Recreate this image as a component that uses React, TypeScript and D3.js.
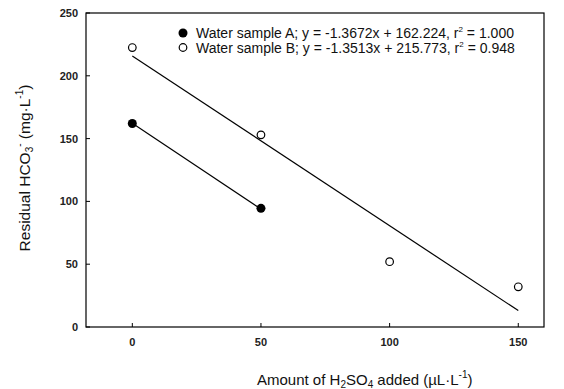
import React from "react";
import * as d3 from "d3";

const xTicks = [0, 50, 100, 150];
const yTicks = [0, 50, 100, 150, 200, 250];
const sampleAx = [0, 50];
const sampleAy = [162, 94.5];
const sampleBx = [0, 50, 100, 150];
const sampleBy = [222.5, 153, 52, 32];
const fitA = { slope: -1.3672, intercept: 162.224, x0: 0, x1: 50 };
const fitB = { slope: -1.3513, intercept: 215.773, x0: 0, x1: 150 };

const W = 564, H = 389;
const L = 86, R = 544, T = 13, B = 327;

export default function App() {
  const x = d3.scaleLinear().domain([-18, 160]).range([L, R]);
  const y = d3.scaleLinear().domain([0, 250]).range([B, T]);
  const font = "Arial, 'Liberation Sans', Helvetica, sans-serif";
  const fitLine = (f: typeof fitA) =>
    d3.line<number>().x((d) => x(d)).y((d) => y(f.slope * d + f.intercept))([f.x0, f.x1]) || "";
  return (
    <svg width={W} height={H} style={{ position: "absolute", left: 0, top: 0, background: "#fff" }} fontFamily={font}>
      <rect x={L} y={T} width={R - L} height={B - T} fill="none" stroke="#000" strokeWidth={1.2} />
      {xTicks.map((t) => (
        <g key={"x" + t}>
          <line x1={x(t)} x2={x(t)} y1={B} y2={B - 4} stroke="#000" />
          <text x={x(t)} y={B + 19} fontSize={11} fontWeight="bold" textAnchor="middle" fill="#222">{t}</text>
        </g>
      ))}
      {yTicks.map((t) => (
        <g key={"y" + t}>
          <line x1={L} x2={L + 4} y1={y(t)} y2={y(t)} stroke="#000" />
          <text x={L - 8} y={y(t) + 4} fontSize={11} fontWeight="bold" textAnchor="end" fill="#222">{t}</text>
        </g>
      ))}
      <path d={fitLine(fitA)} stroke="#000" strokeWidth={1.2} fill="none" />
      <path d={fitLine(fitB)} stroke="#000" strokeWidth={1.2} fill="none" />
      {sampleAx.map((v, i) => (
        <circle key={"a" + i} cx={x(v)} cy={y(sampleAy[i])} r={4.5} fill="#000" />
      ))}
      {sampleBx.map((v, i) => (
        <circle key={"b" + i} cx={x(v)} cy={y(sampleBy[i])} r={3.8} fill="#fff" stroke="#000" strokeWidth={1.2} />
      ))}
      <circle cx={183} cy={33} r={4.5} fill="#000" />
      <text x={196} y={38} fontSize={14} fill="#111">
        Water sample A; y = -1.3672x + 162.224, r<tspan fontSize={8} dy={-6}>2</tspan><tspan dy={6}> = 1.000</tspan>
      </text>
      <circle cx={183} cy={47.5} r={3.8} fill="#fff" stroke="#000" strokeWidth={1.2} />
      <text x={196} y={52.5} fontSize={14} fill="#111">
        Water sample B; y = -1.3513x + 215.773, r<tspan fontSize={8} dy={-6}>2</tspan><tspan dy={6}> = 0.948</tspan>
      </text>
      <text x={257} y={385} fontSize={15} fill="#111">
        Amount of H<tspan fontSize={10} dy={3}>2</tspan><tspan dy={-3}>SO</tspan><tspan fontSize={10} dy={3}>4</tspan><tspan dy={-3}> added (µL·L</tspan><tspan fontSize={10} dy={-7}>-1</tspan><tspan dy={7}>)</tspan>
      </text>
      <text transform="translate(30,168) rotate(-90)" fontSize={15.5} textAnchor="middle" fill="#111">
        Residual HCO<tspan fontSize={10} dy={3}>3</tspan><tspan fontSize={10} dy={-10}>-</tspan><tspan dy={7}> (mg·L</tspan><tspan fontSize={10} dy={-7}>-1</tspan><tspan dy={7}>)</tspan>
      </text>
    </svg>
  );
}
